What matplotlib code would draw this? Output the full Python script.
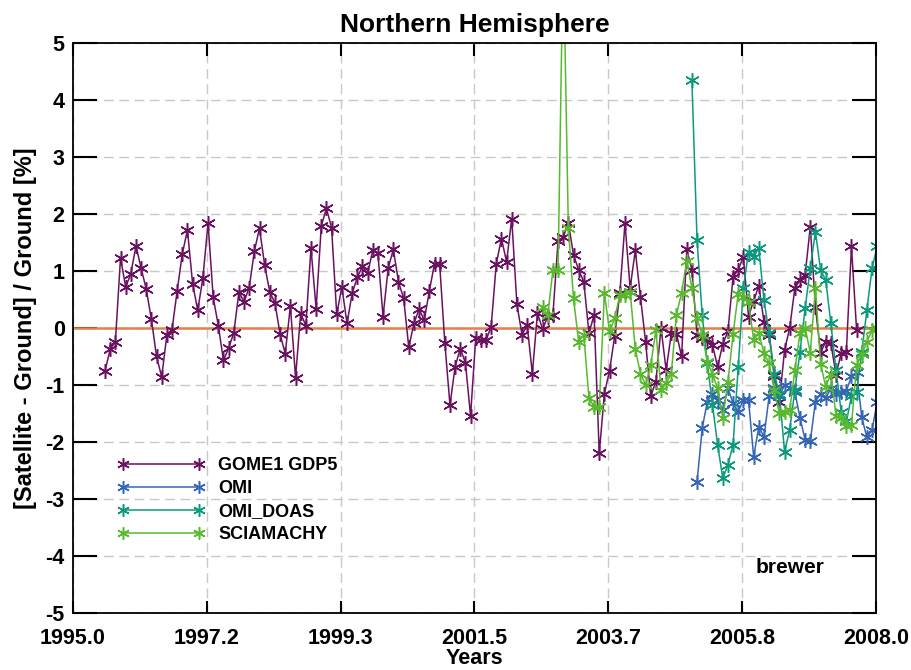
import numpy as np
import matplotlib
matplotlib.use("Agg")
import matplotlib.pyplot as plt

plt.rcParams['font.family'] = ['Liberation Sans', 'DejaVu Sans']
plt.rcParams['axes.unicode_minus'] = False

# monthly means, first GOME1 month ~ mid 1995
t0 = 1995.52

gome1 = [-0.75, -0.37, -0.24, 1.23, 0.72, 0.95, 1.44, 1.05, 0.68, 0.15,
         -0.5, -0.86, -0.12, -0.03, 0.65, 1.3, 1.72, 0.78, 0.31, 0.88,
         1.84, 0.54, 0.04, -0.57, -0.35, -0.09, 0.63, 0.46, 0.71, 1.35,
         1.75, 1.1, 0.63, 0.44, -0.11, -0.45, 0.39, -0.87, 0.26, 0.04,
         1.4, 0.34, 1.79, 2.1, 1.76, 0.24, 0.72, 0.08, 0.61, 0.89,
         1.08, 0.96, 1.36, 1.31, 0.2, 1.05, 1.38, 0.81, 0.52, -0.34,
         0.08, 0.33, 0.14, 0.65, 1.13, 1.12, -0.26, -1.35, -0.68, -0.36,
         -0.61, -1.54, -0.18, -0.21, -0.21, 0.02, 1.13, 1.57, 1.16, 1.92,
         0.42, -0.12, 0.05, -0.8, 0.26, -0.02, 0.2, 0.23, 1.53, 1.59,
         1.85, 1.28, 1.02, 0.81, -0.09, 0.23, -2.2, -1.15, -0.75, -0.14,
         0.61, 1.84, 0.7, 1.36, 0.55, -0.24, -1.2, -0.94, 0.0, -0.74,
         -0.09, -0.1, -0.5, 1.38, 1.02, -0.12, -0.18, -0.2, -0.3, -0.68,
         -0.28, -0.06, 0.9, 1.02, 1.25, 0.2, 0.48, 0.74, 0.11, -0.12,
         -0.85, -1.29, -0.39, 0.0, 0.7, 0.84, 0.93, 1.78, 0.36, -0.43,
         -0.24, -0.27, -0.82, -0.44, -0.42, 1.43, -0.04]
gome1_start = 0

omi = [-2.7, -1.76, -1.29, -1.15, -1.26, -1.44, -1.06, -1.32, -1.47, -1.26,
       -1.26, -2.26, -1.73, -1.91, -1.2, -1.06, -1.2, -1.0, -1.06, -1.12,
       -1.58, -1.96, -1.99, -1.29, -1.15, -1.23, -1.06, -1.15, -1.12, -1.1,
       -0.85, -0.77, -1.57, -1.92, -1.79, -1.29]
omi_start = 115

omi_doas = [4.35, 1.54, 0.23, -0.62, -1.35, -2.05, -2.64, -2.4, -2.05, -0.68,
            0.7, 1.34, 1.25, 1.4, 0.49, -0.09, -0.8, -1.15, -2.17, -1.79,
            -1.09, -0.42, 0.35, 1.05, 1.69, 1.02, 0.84, 0.08, -0.74, -1.47,
            -1.64, -1.2, -1.12, -0.42, 0.32, 1.05, 1.43]
omi_doas_start = 114

sciamachy = [0.37, 0.23, 1.02, 1.02, 6.7, 1.75, 0.52, -0.24, -0.12, -1.23,
             -1.38, -1.38, 0.61, -0.06, 0.17, 0.58, 0.58, 0.64, -0.36, -0.8,
             -1.0, -0.65, -0.04, -1.09, -0.97, -0.8, 0.23, 0.62, 1.18, 0.7,
             0.17, -0.12, -0.59, -0.82, -1.05, -1.58, -0.95, -0.1, 0.6, 0.55,
             0.46, -0.21, -0.09, -0.44, -0.62, -1.09, -1.5, -1.47, -1.44, -0.74,
             -0.09, 0.0, -0.43, 0.71, -0.63, -1.03, -0.8, -1.54, -1.58, -1.72,
             -1.7, -0.65, -0.46, -0.24, -0.04, 0.0]
sciamachy_start = 85

series = [
    ("GOME1 GDP5", gome1, gome1_start, "#6a1260"),
    ("OMI", omi, omi_start, "#3565b5"),
    ("OMI_DOAS", omi_doas, omi_doas_start, "#0c9a7c"),
    ("SCIAMACHY", sciamachy, sciamachy_start, "#58b92f"),
]

xtick_labels = ["1995.0", "1997.2", "1999.3", "2001.5", "2003.7", "2005.8", "2008.0"]
xmin, xmax = 1995.0, 2008.0

fig = plt.figure(figsize=(9.12, 6.70), dpi=100)
ax = fig.add_axes([0.080, 0.0851, 0.8805, 0.8507])

ax.axhline(0, color="#e5804a", lw=1.8, zorder=1.5)

for name, vals, start, col in series:
    t = t0 + (start + np.arange(len(vals))) / 12.0
    ax.plot(t, vals, color=col, lw=1.1, marker=(6, 2, 0), ms=10.5, mew=1.1,
            label=name, zorder=2)

ax.set_xlim(xmin, xmax)
ax.set_ylim(-5, 5)
ax.set_xticks(np.linspace(xmin, xmax, len(xtick_labels)))
ax.set_xticklabels(xtick_labels)
ax.set_yticks(np.arange(-5, 6))

ax.grid(True, color="#c8c8c8", lw=1.0, dashes=(7, 4))
ax.set_axisbelow(True)

ax.tick_params(axis="both", direction="in", top=True, right=True,
               labelsize=15.5, width=1.5)
ax.tick_params(axis="y", length=17, pad=6)
ax.tick_params(axis="x", length=9, pad=11)
for lab in ax.get_xticklabels() + ax.get_yticklabels():
    lab.set_fontweight("bold")
for s in ax.spines.values():
    s.set_linewidth(1.3)

ax.set_title("Northern Hemisphere", fontsize=19, fontweight="bold", pad=8)
ax.set_xlabel("Years", fontsize=15.5, fontweight="bold", labelpad=-1)
ax.set_ylabel("[Satellite - Ground] / Ground [%]", fontsize=17, fontweight="bold", labelpad=6)

ax.text(0.85, 0.08, "brewer", transform=ax.transAxes, fontsize=15,
        fontweight="bold", ha="left", va="center")

leg = ax.legend(loc="upper left", bbox_to_anchor=(0.035, 0.302), frameon=False,
                numpoints=2, handlelength=4.8, handletextpad=0.8,
                labelspacing=0.33, prop={"size": 13, "weight": "bold"})
for h in leg.legend_handles:
    h.set_markersize(9)

fig.savefig("out.png", dpi=100)
